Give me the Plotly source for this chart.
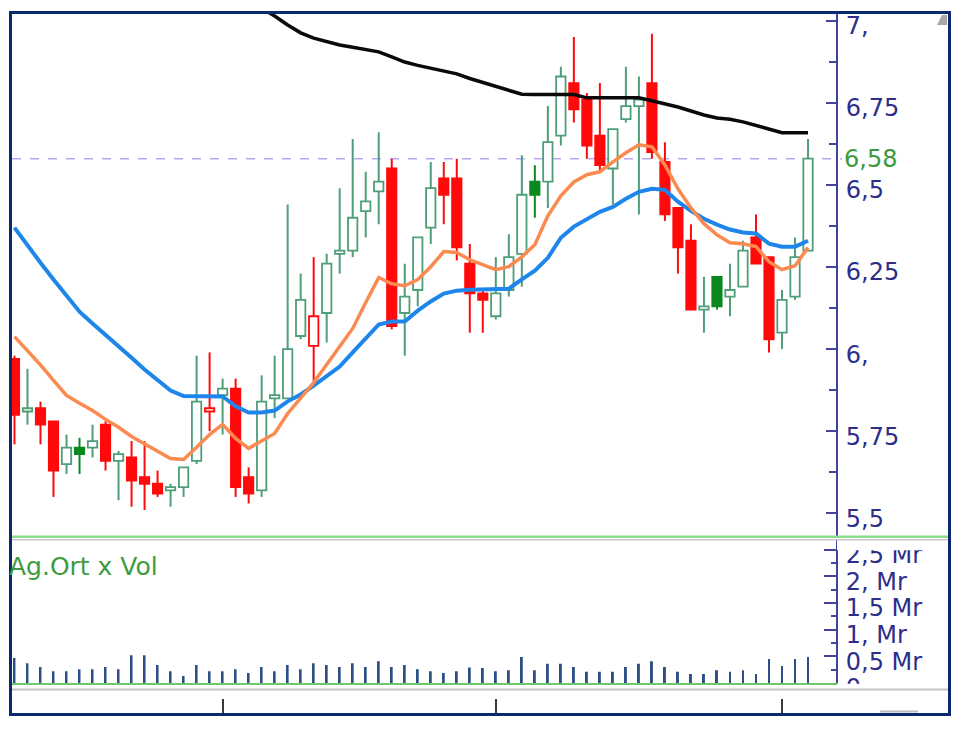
import plotly.graph_objects as go

# ---------------- data ----------------
opens  = [5.97, 5.81, 5.82, 5.78, 5.65, 5.70, 5.70, 5.77, 5.66, 5.67,
          5.61, 5.59, 5.57, 5.58, 5.66, 5.81, 5.86, 5.88, 5.61, 5.57,
          5.85, 5.85, 6.04, 6.01, 6.11, 6.29, 6.30, 6.42, 6.48, 6.55,
          6.11, 6.18, 6.37, 6.52, 6.52, 6.26, 6.17, 6.10, 6.18, 6.29,
          6.51, 6.51, 6.65, 6.81, 6.76, 6.65, 6.55, 6.70, 6.74, 6.81,
          6.57, 6.43, 6.33, 6.12, 6.22, 6.16, 6.19, 6.34, 6.28, 6.05,
          6.16, 6.30]
highs  = [5.98, 5.94, 5.84, 5.78, 5.74, 5.73, 5.77, 5.78, 5.69, 5.72,
          5.72, 5.63, 5.59, 5.64, 5.98, 5.99, 5.91, 5.91, 5.64, 5.92,
          5.98, 6.44, 6.23, 6.28, 6.29, 6.49, 6.64, 6.54, 6.66, 6.58,
          6.26, 6.34, 6.57, 6.57, 6.58, 6.32, 6.18, 6.28, 6.35, 6.59,
          6.56, 6.74, 6.86, 6.95, 6.78, 6.81, 6.67, 6.86, 6.83, 6.96,
          6.63, 6.43, 6.38, 6.22, 6.22, 6.26, 6.33, 6.41, 6.28, 6.18,
          6.34, 6.64]
lows   = [5.71, 5.77, 5.71, 5.55, 5.62, 5.62, 5.67, 5.63, 5.54, 5.52,
          5.51, 5.55, 5.52, 5.55, 5.65, 5.75, 5.74, 5.55, 5.53, 5.55,
          5.79, 5.85, 6.03, 5.90, 6.02, 6.23, 6.28, 6.34, 6.38, 6.06,
          5.98, 6.13, 6.32, 6.38, 6.27, 6.05, 6.05, 6.09, 6.16, 6.19,
          6.40, 6.43, 6.62, 6.69, 6.58, 6.54, 6.44, 6.69, 6.41, 6.58,
          6.39, 6.23, 6.12, 6.05, 6.12, 6.10, 6.19, 6.26, 5.99, 6.00,
          6.15, 6.30]
closes = [5.80, 5.82, 5.77, 5.63, 5.70, 5.68, 5.72, 5.66, 5.68, 5.60,
          5.59, 5.56, 5.58, 5.64, 5.84, 5.82, 5.88, 5.58, 5.56, 5.84,
          5.86, 6.00, 6.15, 6.10, 6.26, 6.30, 6.40, 6.45, 6.51, 6.07,
          6.16, 6.34, 6.49, 6.47, 6.31, 6.17, 6.15, 6.17, 6.28, 6.47,
          6.47, 6.63, 6.83, 6.73, 6.62, 6.56, 6.67, 6.74, 6.76, 6.60,
          6.41, 6.31, 6.12, 6.13, 6.13, 6.18, 6.30, 6.26, 6.03, 6.15,
          6.28, 6.58]
# candle drawing style seen in the picture:
# G = green hollow, R = red filled, r = red hollow, D = dark-green filled
candle_style = ["R", "G", "R", "R", "G", "D", "G", "R", "G", "R",
                "R", "R", "G", "G", "G", "r", "G", "R", "R", "G",
                "G", "G", "G", "r", "G", "G", "G", "G", "G", "R",
                "G", "G", "G", "R", "R", "R", "R", "G", "G", "G",
                "D", "G", "G", "R", "R", "R", "G", "G", "G", "R",
                "R", "R", "R", "G", "D", "G", "G", "R", "R", "G",
                "G", "G"]

ma_blue = [6.370, 6.315, 6.263, 6.212, 6.163, 6.114, 6.078, 6.044, 6.011, 5.974,
           5.938, 5.904, 5.874, 5.857, 5.857, 5.857, 5.856, 5.826, 5.807, 5.807,
           5.813, 5.841, 5.862, 5.889, 5.917, 5.947, 5.990, 6.032, 6.075, 6.084,
           6.084, 6.117, 6.145, 6.169, 6.178, 6.181, 6.181, 6.181, 6.184, 6.212,
           6.239, 6.278, 6.339, 6.373, 6.397, 6.418, 6.433, 6.458, 6.479, 6.488,
           6.485, 6.449, 6.421, 6.397, 6.379, 6.364, 6.355, 6.352, 6.321, 6.312,
           6.312, 6.330]
ma_orange = [6.038, 5.996, 5.952, 5.905, 5.859, 5.835, 5.813, 5.786, 5.762, 5.734,
             5.710, 5.689, 5.667, 5.664, 5.701, 5.740, 5.771, 5.728, 5.698, 5.719,
             5.743, 5.804, 5.850, 5.898, 5.953, 6.008, 6.063, 6.142, 6.218, 6.199,
             6.193, 6.212, 6.251, 6.297, 6.294, 6.272, 6.257, 6.242, 6.251, 6.281,
             6.318, 6.406, 6.467, 6.509, 6.531, 6.540, 6.570, 6.598, 6.622, 6.616,
             6.561, 6.488, 6.430, 6.382, 6.348, 6.324, 6.321, 6.312, 6.266, 6.242,
             6.254, 6.309]
ma_black = [None] * 17 + [
    7.087, 7.063, 7.039, 7.014, 6.987, 6.963, 6.947, 6.937, 6.926, 6.919,
    6.911, 6.905, 6.890, 6.874, 6.864, 6.856, 6.847, 6.838, 6.824, 6.812,
    6.798, 6.786, 6.776, 6.775, 6.775, 6.775, 6.775, 6.765, 6.765, 6.765,
    6.765, 6.765, 6.756, 6.747, 6.737, 6.725, 6.713, 6.704, 6.700, 6.692,
    6.681, 6.671, 6.659, 6.659, 6.659]

volume_mr = [0.47, 0.37, 0.30, 0.22, 0.22, 0.26, 0.26, 0.30, 0.26, 0.52,
             0.52, 0.34, 0.22, 0.13, 0.34, 0.22, 0.22, 0.26, 0.19, 0.30,
             0.22, 0.34, 0.26, 0.37, 0.34, 0.30, 0.37, 0.30, 0.41, 0.30,
             0.34, 0.26, 0.22, 0.19, 0.22, 0.29, 0.28, 0.22, 0.24, 0.49,
             0.24, 0.36, 0.36, 0.30, 0.21, 0.21, 0.21, 0.30, 0.36, 0.41,
             0.30, 0.21, 0.17, 0.17, 0.24, 0.21, 0.24, 0.17, 0.45, 0.32,
             0.45, 0.49]

price_tick_vals = [5.5, 5.75, 6.0, 6.25, 6.5, 6.75, 7.0]
price_tick_text = ["5,5", "5,75", "6,", "6,25", "6,5", "6,75", "7,"]
vol_tick_vals = [0, 0.5, 1.0, 1.5, 2.0, 2.5]
vol_tick_text = ["0", "0,5 Mr", "1, Mr", "1,5 Mr", "2, Mr", "2,5 Mr"]
month_tick_idx = [16, 37, 59]
last_price_text = "6,58"
volume_label = "Ag.Ort x Vol"

# ---------------- styling ----------------
GREEN = "#4E9E78"
RED = "#FF0A0A"
DGREEN = "#0A8A1E"
fill_of = {"G": "#FFFFFF", "R": RED, "r": "#FFFFFF", "D": DGREEN}
line_of = {"G": GREEN, "R": RED, "r": RED, "D": DGREEN}
AXC = "#4343A0"
LBLC = "#2D2D8A"
FONT = "DejaVu Sans"

n = len(closes)
idx = list(range(n))

fig = go.Figure()

# wicks (segments outside the body), grouped by colour
for col in [GREEN, RED, DGREEN]:
    wx, wy = [], []
    for i in idx:
        if line_of[candle_style[i]] != col:
            continue
        top = max(opens[i], closes[i])
        bot = min(opens[i], closes[i])
        if highs[i] > top:
            wx += [i, i, None]
            wy += [top, highs[i], None]
        if lows[i] < bot:
            wx += [i, i, None]
            wy += [bot, lows[i], None]
    fig.add_trace(go.Scatter(x=wx, y=wy, mode="lines",
                             line=dict(color=col, width=2),
                             hoverinfo="skip", xaxis="x", yaxis="y"))

# bodies
bases = [min(o, c) for o, c in zip(opens, closes)]
heights = [max(abs(c - o), 0.006) for o, c in zip(opens, closes)]
fig.add_trace(go.Bar(
    x=idx, y=heights, base=bases, width=0.72,
    marker=dict(color=[fill_of[s] for s in candle_style],
                line=dict(color=[line_of[s] for s in candle_style], width=1.8)),
    xaxis="x", yaxis="y", hoverinfo="skip"))

# moving averages
fig.add_trace(go.Scatter(x=idx, y=ma_blue, mode="lines",
                         line=dict(color="#1E86EA", width=4),
                         xaxis="x", yaxis="y"))
fig.add_trace(go.Scatter(x=idx, y=ma_orange, mode="lines",
                         line=dict(color="#FA8A50", width=3.5),
                         xaxis="x", yaxis="y"))
fig.add_trace(go.Scatter(x=idx, y=ma_black, mode="lines",
                         line=dict(color="#0A0A0A", width=3.5),
                         xaxis="x", yaxis="y"))

# volume
fig.add_trace(go.Bar(x=idx, y=volume_mr, width=0.15,
                     marker=dict(color="#2C4F86", line=dict(width=0)),
                     xaxis="x2", yaxis="y2", hoverinfo="skip"))

# invisible anchor trace so the bottom (month-tick) axis is drawn
fig.add_trace(go.Scatter(x=month_tick_idx, y=[0.5] * len(month_tick_idx),
                         mode="markers", marker=dict(opacity=0, size=1),
                         xaxis="x3", yaxis="y3", hoverinfo="skip"))

# ---- geometry: positions are given in pixels of the target picture ----
# page body margin is 8px; the photographed page is squeezed vertically by S
OFF = 8
S = 0.975
W = 960 - 2 * OFF
H = 728
ML = 12 - OFF
MR = 960 - 836 - OFF
MT = 13 / S - OFF
MB = H - (716 / S - OFF)
PW = W - ML - MR
PH = H - MT - MB


def px(xr):
    return (xr - OFF - ML) / PW


def py(yr):
    return (H - MB - (yr / S - OFF)) / PH


XR = [-0.19, 63.15]

fig.update_layout(
    width=W, height=H,
    margin=dict(l=ML, r=MR, t=MT, b=MB, pad=0),
    paper_bgcolor="white", plot_bgcolor="white",
    showlegend=False, barmode="overlay",
    xaxis=dict(domain=[0, 1], anchor="y", range=XR, showticklabels=False,
               ticks="", showgrid=False, zeroline=False, showline=False),
    yaxis=dict(domain=[py(537), 1], anchor="x", side="right",
               range=[5.4302, 7.0234],
               tickmode="array", tickvals=price_tick_vals, ticktext=price_tick_text,
               ticks="inside", ticklen=10, tickwidth=1.5, tickcolor=AXC,
               minor=dict(tick0=5.5, dtick=0.125, ticks="inside", ticklen=7,
                          tickwidth=1.5, tickcolor=AXC, showgrid=False),
               showline=True, linecolor=AXC, linewidth=2,
               showgrid=False, zeroline=False,
               tickfont=dict(family=FONT, size=24, color=LBLC),
               ticklabelshift=5, ticklabelstandoff=3),
    xaxis2=dict(domain=[0, 1], anchor="y2", matches="x", range=XR,
                showticklabels=False, ticks="", showgrid=False, zeroline=False,
                showline=True, linecolor="#6CC66C", linewidth=2),
    yaxis2=dict(domain=[py(684), py(541)], anchor="x2", side="right",
                range=[0, 2.678],
                tickmode="array", tickvals=vol_tick_vals, ticktext=vol_tick_text,
                ticks="inside", ticklen=12, tickwidth=1.5, tickcolor=AXC,
                minor=dict(tick0=0, dtick=0.25, ticks="inside", ticklen=5,
                           tickwidth=1.5, tickcolor=AXC, showgrid=False),
                showline=True, linecolor=AXC, linewidth=2,
                showgrid=False, zeroline=False,
                tickfont=dict(family=FONT, size=24, color=LBLC),
                ticklabelshift=5, ticklabelstandoff=3),
    xaxis3=dict(domain=[0, 1], anchor="y3", matches="x", range=XR,
                tickmode="array", tickvals=month_tick_idx, ticks="inside",
                ticklen=16, tickwidth=2, tickcolor="#3A3A3A",
                showticklabels=False, showgrid=False, zeroline=False,
                showline=False),
    yaxis3=dict(domain=[0, py(699)], anchor="x3", range=[0, 1],
                showticklabels=False, ticks="", showline=False,
                showgrid=False, zeroline=False),
)

shapes = []
# last-price dashed line
shapes.append(dict(type="line", xref="paper", yref="y", x0=0, x1=px(842),
                   y0=closes[-1], y1=closes[-1], layer="below",
                   line=dict(color="#B9A6F2", width=1.5, dash="dash")))
# masks clipping the volume-axis labels at the panel edges
shapes.append(dict(type="rect", xref="paper", yref="paper", x0=px(837), x1=px(947),
                   y0=py(551), y1=py(538), fillcolor="white", line=dict(width=0),
                   layer="above"))
shapes.append(dict(type="rect", xref="paper", yref="paper", x0=px(837), x1=px(947),
                   y0=py(714), y1=py(684.8), fillcolor="white", line=dict(width=0),
                   layer="above"))
# panel separators
shapes.append(dict(type="line", xref="paper", yref="paper", x0=px(10), x1=px(950),
                   y0=py(540.5), y1=py(540.5), line=dict(color="#C8C8C8", width=1.5),
                   layer="above"))
shapes.append(dict(type="line", xref="paper", yref="paper", x0=px(10), x1=px(950),
                   y0=py(537.5), y1=py(537.5), line=dict(color="#8EDC8E", width=2.5),
                   layer="above"))
shapes.append(dict(type="line", xref="paper", yref="paper", x0=px(10), x1=px(950),
                   y0=py(690.5), y1=py(690.5), line=dict(color="#C4C4C4", width=2),
                   layer="above"))
# small widgets
shapes.append(dict(type="path", xref="paper", yref="paper",
                   path="M %f %f L %f %f L %f %f L %f %f Z" % (
                       px(937), py(25), px(947), py(25), px(947), py(15), px(942), py(15)),
                   fillcolor="#A8A8A8", line=dict(width=0), layer="above"))
shapes.append(dict(type="line", xref="paper", yref="paper", x0=px(880), x1=px(918),
                   y0=py(712.5), y1=py(712.5), line=dict(color="#BDBDBD", width=2),
                   layer="above"))
# outer frame
shapes.append(dict(type="rect", xref="paper", yref="paper", x0=px(10.5), x1=px(949.5),
                   y0=py(715.5), y1=py(12.5), line=dict(color="#0B2A6E", width=3),
                   fillcolor="rgba(0,0,0,0)", layer="above"))
fig.update_layout(shapes=shapes)

fig.add_annotation(xref="paper", yref="y", x=px(842), y=closes[-1],
                   text=last_price_text, showarrow=False, xanchor="left",
                   yanchor="middle",
                   font=dict(family=FONT, size=24, color="#3C9A3C"))
fig.add_annotation(xref="paper", yref="paper", x=px(7), y=py(567),
                   text=volume_label, showarrow=False, xanchor="left",
                   yanchor="middle",
                   font=dict(family=FONT, size=25, color="#3E9B3E"))

fig.write_html("out.html")
